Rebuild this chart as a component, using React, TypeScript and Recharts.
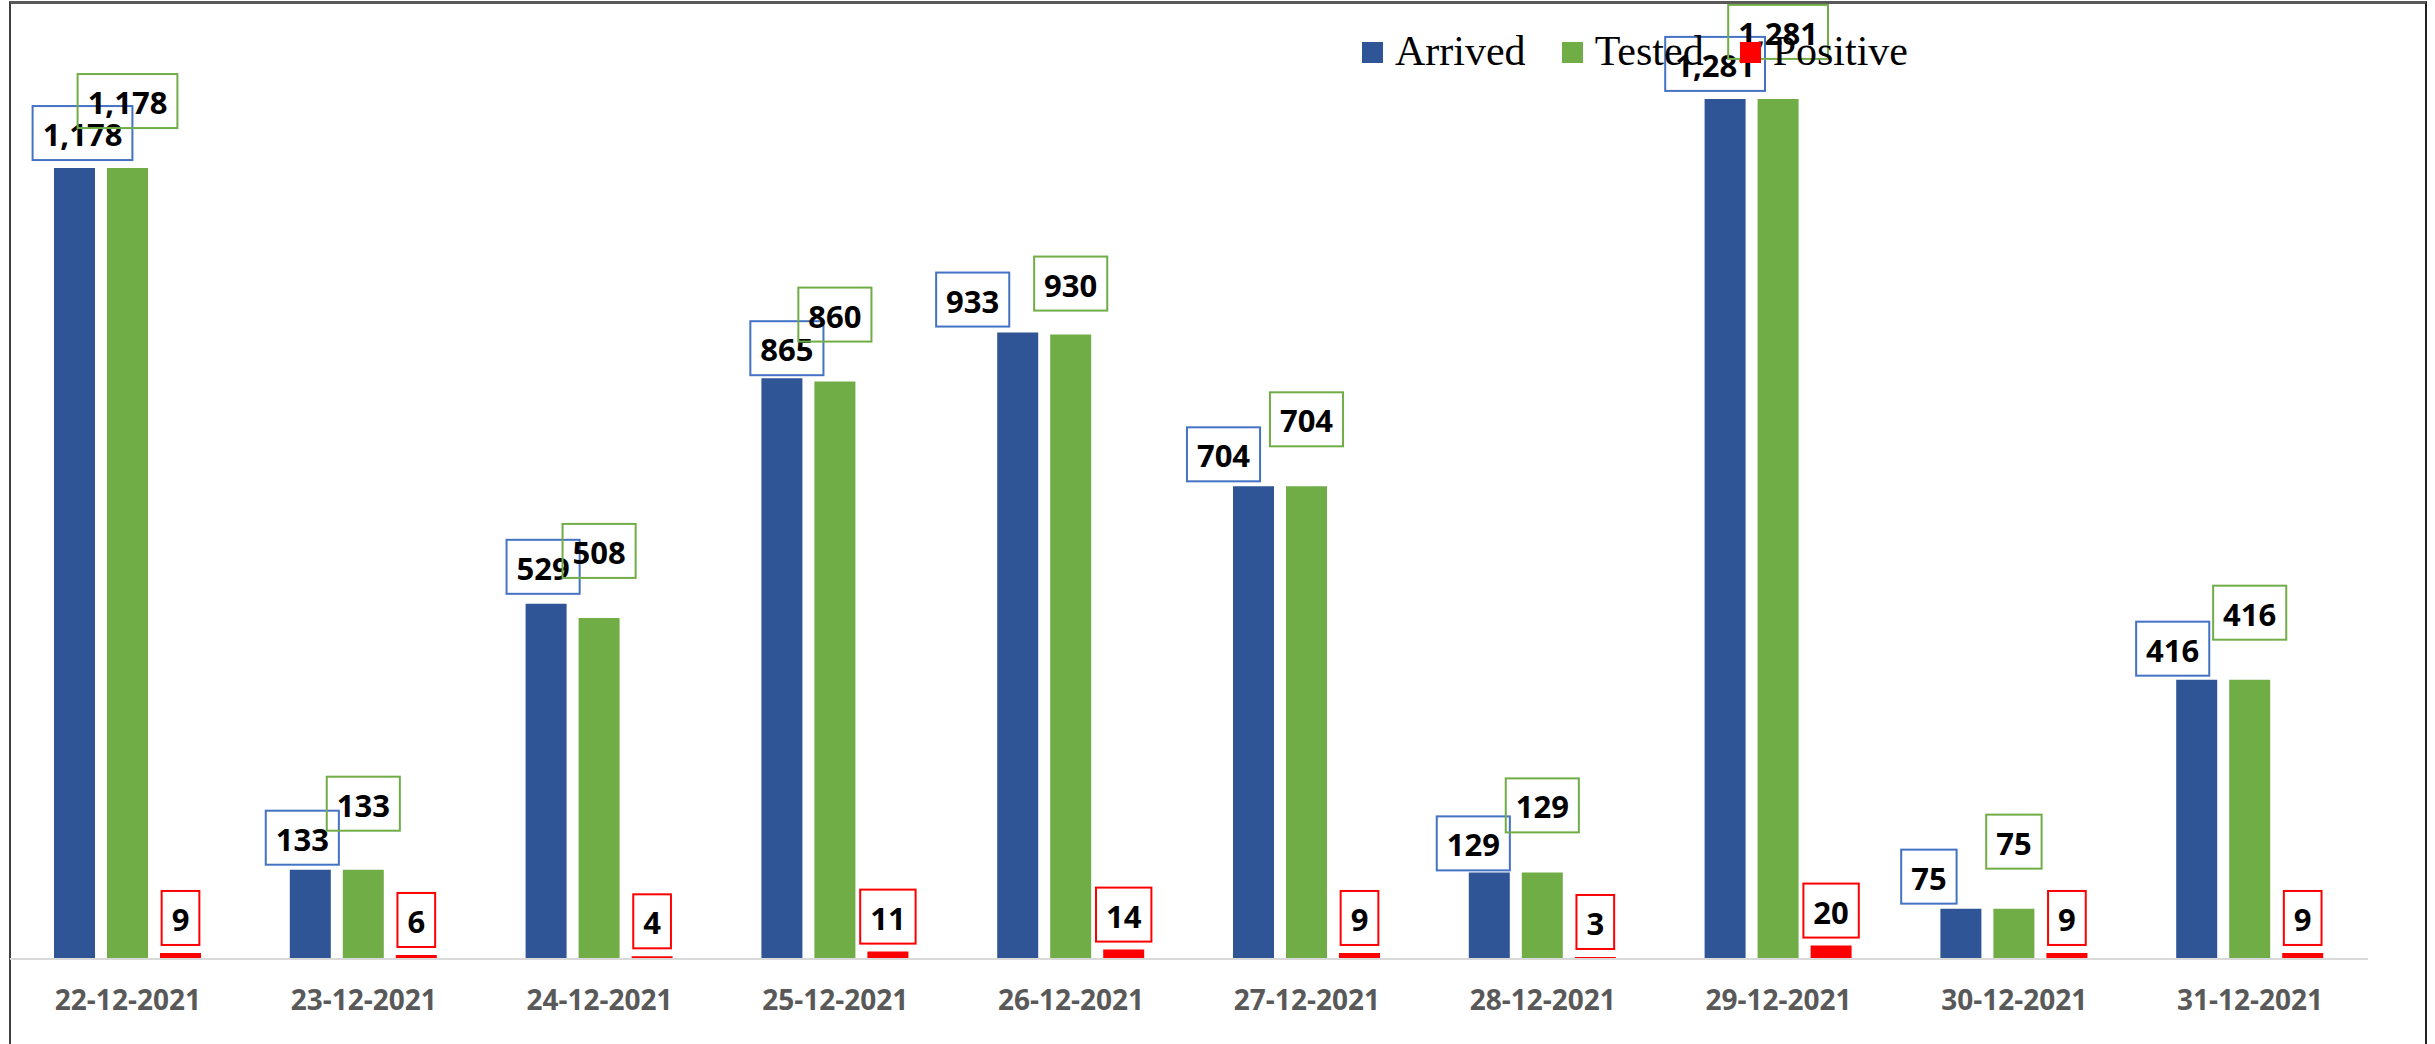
import * as React from "react";
import { BarChart, Bar, XAxis, YAxis, LabelList } from "recharts";

const dates = [
  "22-12-2021", "23-12-2021", "24-12-2021", "25-12-2021", "26-12-2021",
  "27-12-2021", "28-12-2021", "29-12-2021", "30-12-2021", "31-12-2021",
];
const arrived = [1178, 133, 529, 865, 933, 704, 129, 1281, 75, 416];
const tested = [1178, 133, 508, 860, 930, 704, 129, 1281, 75, 416];
const positive = [9, 6, 4, 11, 14, 9, 3, 20, 9, 9];

// labels were dragged around by hand in the original, so keep the nudges
const arrivedLabelDx = [8, -8, -3, 5, -45, -30, -16, -10, -32, -24];
const arrivedLabelLift = [8, 5, 10, 3, 6, 5, 2, 8, 5, 4];
const testedLabelLift = [40, 39, 40, 40, 24, 40, 40, 40, 40, 40];

const chartData = dates.map((d, i) => ({
  date: d,
  arrived: arrived[i],
  tested: tested[i],
  positive: positive[i],
}));

const legendItems = [
  { name: "Arrived", color: "#2F5597" },
  { name: "Tested", color: "#70AD47" },
  { name: "Positive", color: "#FF0000" },
];

const textWidth = (s: string) =>
  s.split("").reduce((w, c) => w + (c === "," ? 9 : 17.7), 0);

const boxLabel =
  (stroke: string, dx: number[] | null, lift: number[] | number) => (props: any) => {
    const vb = props.viewBox || {};
    const x = props.x ?? vb.x;
    const y = props.y ?? vb.y;
    const width = props.width ?? vb.width;
    const i = props.index;
    const text = Number(props.value).toLocaleString("en-US");
    const w = textWidth(text) + 20;
    const h = 54;
    const cx = x + width / 2 + (dx ? dx[i] : 0);
    const bottom = y - (Array.isArray(lift) ? lift[i] : lift);
    return (
      <g>
        <rect x={cx - w / 2} y={bottom - h} width={w} height={h} fill="none" stroke={stroke} strokeWidth={2} />
        <text
          x={cx}
          y={bottom - 14}
          textAnchor="middle"
          fontFamily="'Open Sans', sans-serif"
          fontWeight="bold"
          fontSize={31}
          fill="#000"
        >
          {text}
        </text>
      </g>
    );
  };

const DateTick = ({ x, y, payload }: any) => (
  <text
    x={x}
    y={y + 51}
    textAnchor="middle"
    fontFamily="'Open Sans', sans-serif"
    fontWeight="bold"
    fontSize={28}
    fill="#595959"
  >
    {payload.value}
  </text>
);

export default function App() {
  return (
    <div style={{ position: "absolute", left: 0, top: 0, width: 2435, height: 1044, overflow: "hidden", background: "#fff" }}>
      <div
        style={{
          position: "absolute",
          left: 9,
          top: 1,
          width: 2414,
          height: 1100,
          borderTop: "3px solid #595959",
          borderLeft: "2px solid #404040",
          borderRight: "2px solid #202020",
        }}
      />
      <div style={{ position: "absolute", left: 0, top: 0 }}>
        <BarChart
          width={2435}
          height={1044}
          data={chartData}
          margin={{ top: 19, right: 67, bottom: 25, left: 10 }}
          barSize={41}
          barGap={12}
        >
          <XAxis
            dataKey="date"
            height={60}
            tickLine={false}
            tickSize={0}
            tickMargin={0}
            axisLine={{ stroke: "#D9D9D9", strokeWidth: 2 }}
            tick={<DateTick />}
            interval={0}
          />
          <YAxis hide domain={[0, 1400]} />
          <Bar dataKey="arrived" fill="#2F5597" isAnimationActive={false}>
            <LabelList dataKey="arrived" content={boxLabel("#4472C4", arrivedLabelDx, arrivedLabelLift)} />
          </Bar>
          <Bar dataKey="tested" fill="#70AD47" isAnimationActive={false}>
            <LabelList dataKey="tested" content={boxLabel("#70AD47", null, testedLabelLift)} />
          </Bar>
          <Bar dataKey="positive" fill="#FF0000" isAnimationActive={false}>
            <LabelList dataKey="positive" content={boxLabel("#FF0000", null, 8)} />
          </Bar>
        </BarChart>
      </div>
      <div
        style={{
          position: "absolute",
          left: 1362,
          top: 30,
          display: "flex",
          fontFamily: "'Liberation Serif', 'Times New Roman', serif",
          fontSize: 42,
          lineHeight: "42px",
          color: "#000",
          whiteSpace: "nowrap",
        }}
      >
        {legendItems.map((it, k) => (
          <div key={it.name} style={{ marginRight: k < legendItems.length - 1 ? 36 : 0 }}>
            <span
              style={{
                display: "inline-block",
                width: 21,
                height: 21,
                background: it.color,
                marginRight: 12,
                position: "relative",
                top: -2,
              }}
            />
            {it.name}
          </div>
        ))}
      </div>
    </div>
  );
}
